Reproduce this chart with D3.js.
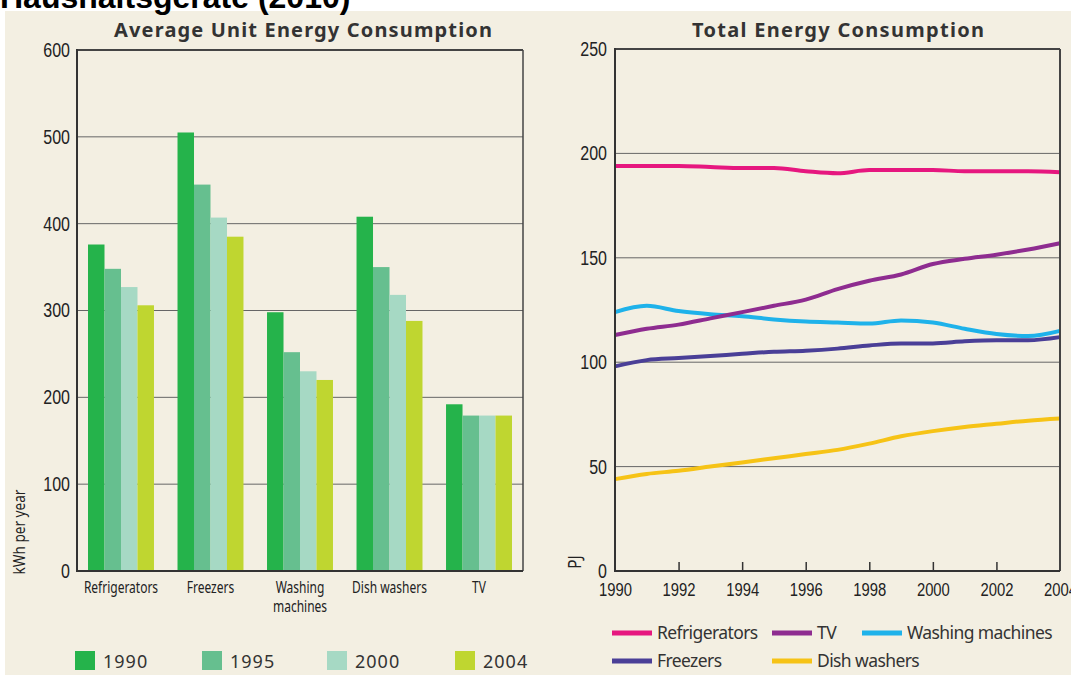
<!DOCTYPE html>
<html>
<head>
  <meta charset="utf-8" />
  <title>Haushaltsgeräte (2010)</title>
  <script src="https://d3js.org/d3.v7.min.js"></script>
  <style>
    body { margin: 0; background: #fff; }
    svg { display: block; font-family: "Noto Sans", "Open Sans", sans-serif; }
    .grid line { stroke: #666; stroke-width: 1; }
  </style>
</head>
<body>
<svg id="chart" width="1071" height="675"></svg>
<script>
  // ---- data ----
  const appliances = ["Refrigerators", "Freezers", "Washing machines", "Dish washers", "TV"];
  const barYears = ["1990", "1995", "2000", "2004"];
  const unitRefrigerators = [376, 348, 327, 306];
  const unitFreezers = [505, 445, 407, 385];
  const unitWashing = [298, 252, 230, 220];
  const unitDish = [408, 350, 318, 288];
  const unitTV = [192, 179, 179, 179];
  const unitTicks = [0, 100, 200, 300, 400, 500, 600];

  const lineYears = [1990, 1991, 1992, 1993, 1994, 1995, 1996, 1997, 1998, 1999, 2000, 2001, 2002, 2003, 2004];
  const totRefrigerators = [194, 194, 194, 193.5, 193, 193, 191.5, 190.5, 192, 192, 192, 191.5, 191.5, 191.5, 191];
  const totTV = [113, 116, 118, 121, 124, 127, 130, 135, 139, 142, 147, 149.5, 151.5, 154, 157];
  const totWashing = [124, 127, 124.5, 123, 122, 120.5, 119.5, 119, 118.5, 120, 119, 116, 113.5, 112.5, 115];
  const totFreezers = [98, 101, 102, 103, 104, 105, 105.5, 106.5, 108, 109, 109, 110, 110.5, 110.5, 112];
  const totDish = [44, 46.5, 48, 50, 52, 54, 56, 58, 61, 64.5, 67, 69, 70.5, 72, 73];
  const totTicks = [0, 50, 100, 150, 200, 250];
  const yearTicks = [1990, 1992, 1994, 1996, 1998, 2000, 2002, 2004];

  const barColors = ["#25b34b", "#66bf8f", "#a6d9c4", "#bfd630"];
  const lineSeries = [
    { name: "Refrigerators", values: totRefrigerators, color: "#e6177f" },
    { name: "TV", values: totTV, color: "#8e2c90" },
    { name: "Washing machines", values: totWashing, color: "#1eb2ea" },
    { name: "Freezers", values: totFreezers, color: "#4a3f97" },
    { name: "Dish washers", values: totDish, color: "#f6c316" }
  ];
  const unitValues = [unitRefrigerators, unitFreezers, unitWashing, unitDish, unitTV];

  const svg = d3.select("#chart");

  // background panel and page title
  svg.append("rect").attr("x", 5).attr("y", 11).attr("width", 1066).attr("height", 664).attr("fill", "#f3efe2");
  svg.append("text")
    .attr("x", 0).attr("y", 8)
    .style("font-family", "'Liberation Sans', Arial, sans-serif")
    .style("font-weight", "bold").style("font-size", "32px")
    .attr("fill", "#000")
    .text("Haushaltsgeräte (2010)");

  // ---- left: bar chart ----
  const L = { left: 77, right: 523, top: 50, bottom: 571 };
  const xBand = d3.scaleBand().domain(appliances).range([L.left, L.right]).paddingInner(0.263).paddingOuter(0.123);
  const xYear = d3.scaleBand().domain(barYears).range([0, xBand.bandwidth()]);
  const yUnit = d3.scaleLinear().domain([0, 600]).range([L.bottom, L.top]);

  const left = svg.append("g");
  left.append("g").attr("class", "grid")
    .selectAll("line").data(unitTicks.filter(d => d > 0 && d < 600)).join("line")
    .attr("x1", L.left).attr("x2", L.right)
    .attr("y1", d => yUnit(d)).attr("y2", d => yUnit(d));

  const groups = left.selectAll("g.group").data(appliances).join("g")
    .attr("class", "group")
    .attr("transform", d => `translate(${xBand(d)},0)`);
  groups.selectAll("rect")
    .data((d, i) => unitValues[i].map((v, j) => ({ year: barYears[j], v: v, c: barColors[j] })))
    .join("rect")
    .attr("x", d => xYear(d.year))
    .attr("width", xYear.bandwidth())
    .attr("y", d => yUnit(d.v))
    .attr("height", d => yUnit(0) - yUnit(d.v))
    .attr("fill", d => d.c);

  // frame
  left.append("line").attr("x1", L.left).attr("x2", L.right).attr("y1", L.top).attr("y2", L.top).attr("stroke", "#444").attr("stroke-width", 2);
  left.append("line").attr("x1", L.right).attr("x2", L.right).attr("y1", L.top).attr("y2", L.bottom).attr("stroke", "#444").attr("stroke-width", 1.5);
  left.append("line").attr("x1", L.left).attr("x2", L.left).attr("y1", L.top - 1).attr("y2", L.bottom + 1).attr("stroke", "#333").attr("stroke-width", 2);
  left.append("line").attr("x1", L.left).attr("x2", L.right).attr("y1", L.bottom).attr("y2", L.bottom).attr("stroke", "#333").attr("stroke-width", 2);

  // condensed look: squeeze text horizontally
  const yAxisL = d3.axisLeft(yUnit).tickValues(unitTicks).tickSize(0);
  left.append("g").attr("transform", `translate(${L.left},0)`).call(yAxisL)
    .call(g => g.select(".domain").remove())
    .call(g => g.selectAll("text")
      .attr("x", 0).attr("transform", "translate(-7,0) scale(0.8,1)")
      .style("font-size", "20px").attr("fill", "#222"));

  left.selectAll("text.cat").data(appliances).join("text")
    .attr("class", "cat")
    .attr("transform", d => `translate(${xBand(d) + xBand.bandwidth() / 2},593) scale(0.75,1)`)
    .attr("text-anchor", "middle")
    .style("font-size", "16px").attr("fill", "#222")
    .each(function (d) {
      const parts = d === "Washing machines" ? ["Washing", "machines"] : [d];
      d3.select(this).selectAll("tspan").data(parts).join("tspan")
        .attr("x", 0)
        .attr("dy", (p, i) => i === 0 ? 0 : 19)
        .text(p => p);
    });

  svg.append("text")
    .attr("transform", "translate(25,532) rotate(-90) scale(0.8,1)")
    .attr("text-anchor", "middle")
    .style("font-size", "17px").attr("fill", "#222")
    .text("kWh per year");

  svg.append("text")
    .attr("x", 303).attr("y", 37)
    .attr("text-anchor", "middle")
    .attr("textLength", 378).attr("lengthAdjust", "spacing")
    .style("font-weight", "bold").style("font-size", "20px").attr("fill", "#333")
    .text("Average Unit Energy Consumption");

  // bar legend
  const barLegX = [75, 202, 327, 455];
  const bl = svg.append("g").selectAll("g").data(barYears).join("g")
    .attr("transform", (d, i) => `translate(${barLegX[i]},651)`);
  bl.append("rect").attr("width", 20).attr("height", 19).attr("fill", (d, i) => barColors[i]);
  bl.append("text").attr("x", 28).attr("y", 17)
    .style("font-size", "18px").attr("fill", "#333").attr("letter-spacing", "1")
    .text(d => d);

  // ---- right: line chart ----
  const R = { left: 615, right: 1060, top: 49, bottom: 571 };
  const xYr = d3.scaleLinear().domain([1990, 2004]).range([R.left, R.right]);
  const yTot = d3.scaleLinear().domain([0, 250]).range([R.bottom, R.top]);

  const right = svg.append("g");
  right.append("g").attr("class", "grid")
    .selectAll("line").data(totTicks.filter(d => d > 0 && d < 250)).join("line")
    .attr("x1", R.left).attr("x2", R.right)
    .attr("y1", d => yTot(d)).attr("y2", d => yTot(d));

  const line = d3.line()
    .x((d, i) => xYr(lineYears[i]))
    .y(d => yTot(d))
    .curve(d3.curveMonotoneX);

  right.selectAll("path.series").data(lineSeries.slice().reverse()).join("path")
    .attr("class", "series")
    .attr("fill", "none")
    .attr("stroke", d => d.color)
    .attr("stroke-width", 4)
    .attr("stroke-linejoin", "round")
    .attr("d", d => line(d.values));

  right.append("line").attr("x1", R.left).attr("x2", R.right).attr("y1", R.top).attr("y2", R.top).attr("stroke", "#444").attr("stroke-width", 2);
  right.append("line").attr("x1", R.right).attr("x2", R.right).attr("y1", R.top).attr("y2", R.bottom).attr("stroke", "#444").attr("stroke-width", 2);
  right.append("line").attr("x1", R.left).attr("x2", R.left).attr("y1", R.top - 1).attr("y2", R.bottom + 1).attr("stroke", "#333").attr("stroke-width", 2);
  right.append("line").attr("x1", R.left).attr("x2", R.right).attr("y1", R.bottom).attr("y2", R.bottom).attr("stroke", "#333").attr("stroke-width", 2);

  const yAxisR = d3.axisLeft(yTot).tickValues(totTicks).tickSize(0);
  right.append("g").attr("transform", `translate(${R.left},0)`).call(yAxisR)
    .call(g => g.select(".domain").remove())
    .call(g => g.selectAll("text")
      .attr("x", 0).attr("transform", "translate(-8,0) scale(0.8,1)")
      .style("font-size", "20px").attr("fill", "#222"));

  const xAxisR = d3.axisTop(xYr).tickValues(yearTicks).tickFormat(d3.format("d")).tickSize(9);
  const xg = right.append("g").attr("transform", `translate(0,${R.bottom})`).call(xAxisR);
  xg.select(".domain").remove();
  xg.selectAll("line").attr("stroke", "#333").attr("stroke-width", 1.5)
    .filter(d => d === 1990 || d === 2004).remove();
  xg.selectAll("text")
    .attr("y", 25).attr("transform", "scale(0.78,1)")
    .style("font-size", "19px").attr("fill", "#222");

  svg.append("text")
    .attr("transform", "translate(581,562) rotate(-90) scale(0.85,1)")
    .attr("text-anchor", "middle")
    .style("font-size", "18px").attr("fill", "#222")
    .text("PJ");

  svg.append("text")
    .attr("x", 838).attr("y", 37)
    .attr("text-anchor", "middle")
    .attr("textLength", 292).attr("lengthAdjust", "spacing")
    .style("font-weight", "bold").style("font-size", "20px").attr("fill", "#333")
    .text("Total Energy Consumption");

  // line legend
  const legPos = [[612, 633], [772, 633], [862, 633], [612, 661], [772, 661]];
  const ll = svg.append("g").selectAll("g").data(lineSeries).join("g")
    .attr("transform", (d, i) => `translate(${legPos[i][0]},${legPos[i][1]})`);
  ll.append("line").attr("x1", 0).attr("x2", 40).attr("stroke", d => d.color).attr("stroke-width", 5);
  ll.append("text").attr("x", 45).attr("y", 6)
    .style("font-size", "17.5px").attr("letter-spacing", "-0.6").attr("fill", "#333")
    .text(d => d.name);
</script>
</body>
</html>
